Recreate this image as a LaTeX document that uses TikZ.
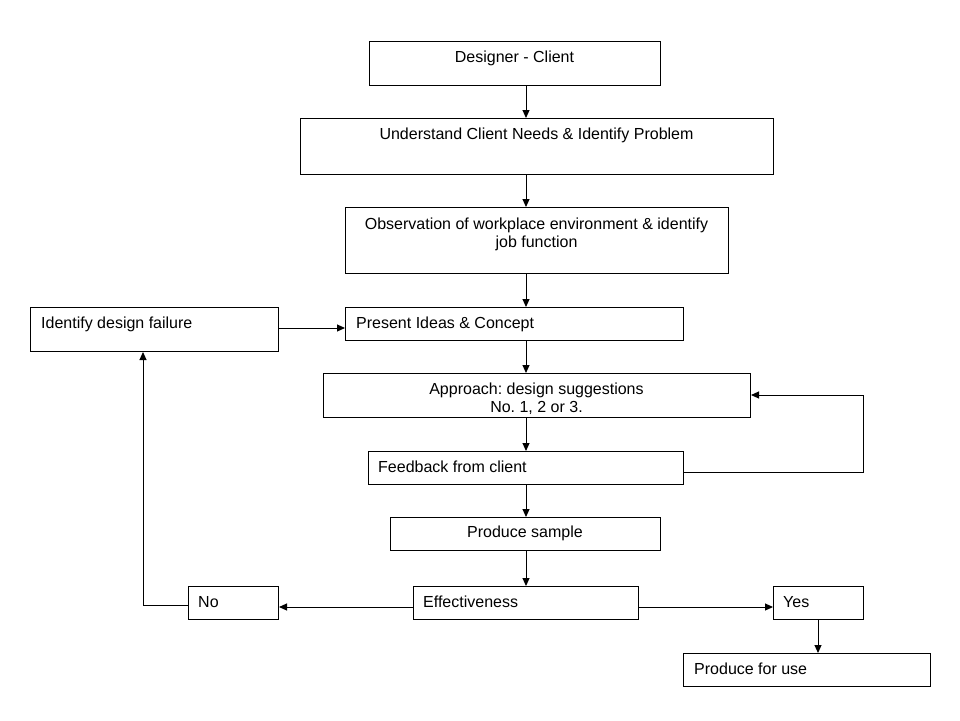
\documentclass[tikz,border=0pt]{standalone}
\usepackage{fontspec}
\setmainfont{Liberation Sans}
\usetikzlibrary{arrows.meta}
\frenchspacing
\tikzset{
  box/.style={draw=black, line width=1pt, inner sep=0pt, anchor=north west, fill=white},
  txt/.style={inner sep=0pt, font=\fontsize{16}{18}\selectfont\frenchspacing},
  conn/.style={draw=black, line width=1pt, -{Triangle[length=8pt,width=7pt]}},
  plain/.style={draw=black, line width=1pt},
}
\newcommand\mkbox[5]{\node[box, minimum width={#4-#2}, minimum height={#5-#3}] (#1) at (#2,#3) {};}
\begin{document}
\begin{tikzpicture}[x=1pt,y=-1pt]
\useasboundingbox[fill=white] (0,0) rectangle (960,720);
% boxes
\mkbox{dc}{369}{41}{660}{85}
\mkbox{un}{300}{118}{773}{174}
\mkbox{ob}{345}{207}{728}{273}
\mkbox{idf}{30}{307}{278}{351}
\mkbox{pic}{345}{307}{683}{340}
\mkbox{ap}{323}{373}{750}{417}
\mkbox{fb}{368}{451}{683}{484}
\mkbox{ps}{390}{517}{660}{550}
\mkbox{ef}{413}{586}{638}{619}
\mkbox{no}{188}{586}{278}{619}
\mkbox{yes}{773}{586}{863}{619}
\mkbox{pu}{683}{653}{930}{686}
% texts
\node[txt, anchor=base] (tdc) at (514.5,62) {Designer - Client};
\node[txt, anchor=base] (tun) at (536.5,139) {Understand Client Needs \& Identify Problem};
\node[txt, anchor=north, align=center] (tob) at (536.5,217.5) {Observation of workplace environment \& identify\\job function};
\node[txt, anchor=base west] (tidf) at (41,328) {Identify design failure};
\node[txt, anchor=base west] (tpic) at (356,328) {Present Ideas \& Concept};
\node[txt, anchor=north, align=center] (tap) at (536.5,382.5) {Approach: design suggestions\\No. 1, 2 or 3.};
\node[txt, anchor=base west] (tfb) at (378,472) {Feedback from client};
\node[txt, anchor=base] (tps) at (525,537.5) {Produce sample};
\node[txt, anchor=base west] (tef) at (423,607) {Effectiveness};
\node[txt, anchor=base west] (tno) at (198,607) {No};
\node[txt, anchor=base west] (tyes) at (783,607) {Yes};
\node[txt, anchor=base west] (tpu) at (694,674) {Produce for use};
% main vertical connectors
\draw[conn] (dc.south -| 526,0) -- (un.north -| 526,0);
\draw[conn] (un.south -| 526,0) -- (ob.north -| 526,0);
\draw[conn] (ob.south -| 526,0) -- (pic.north -| 526,0);
\draw[conn] (pic.south -| 526,0) -- (ap.north -| 526,0);
\draw[conn] (ap.south -| 526,0) -- (fb.north -| 526,0);
\draw[conn] (fb.south -| 526,0) -- (ps.north -| 526,0);
\draw[conn] (ps.south -| 526,0) -- (ef.north -| 526,0);
% feedback loop
\coordinate (lp1) at (863,472);
\coordinate (lp2) at (863,395);
\draw[conn] (fb.east |- lp1) -- (lp1) -- (lp2) -- (ap.east |- lp2);
% identify -> present
\draw[conn] (idf.east |- 0,328) -- (pic.west |- 0,328);
% effectiveness -> no / yes
\draw[conn] (ef.west |- 0,607) -- (no.east |- 0,607);
\draw[conn] (ef.east |- 0,607) -- (yes.west |- 0,607);
% no -> identify
\coordinate (nl) at (143,605);
\draw[conn] (no.west |- nl) -- (nl) -- (idf.south -| nl);
% yes -> produce for use
\draw[conn] (yes.south -| 818,0) -- (pu.north -| 818,0);
\end{tikzpicture}
\end{document}
